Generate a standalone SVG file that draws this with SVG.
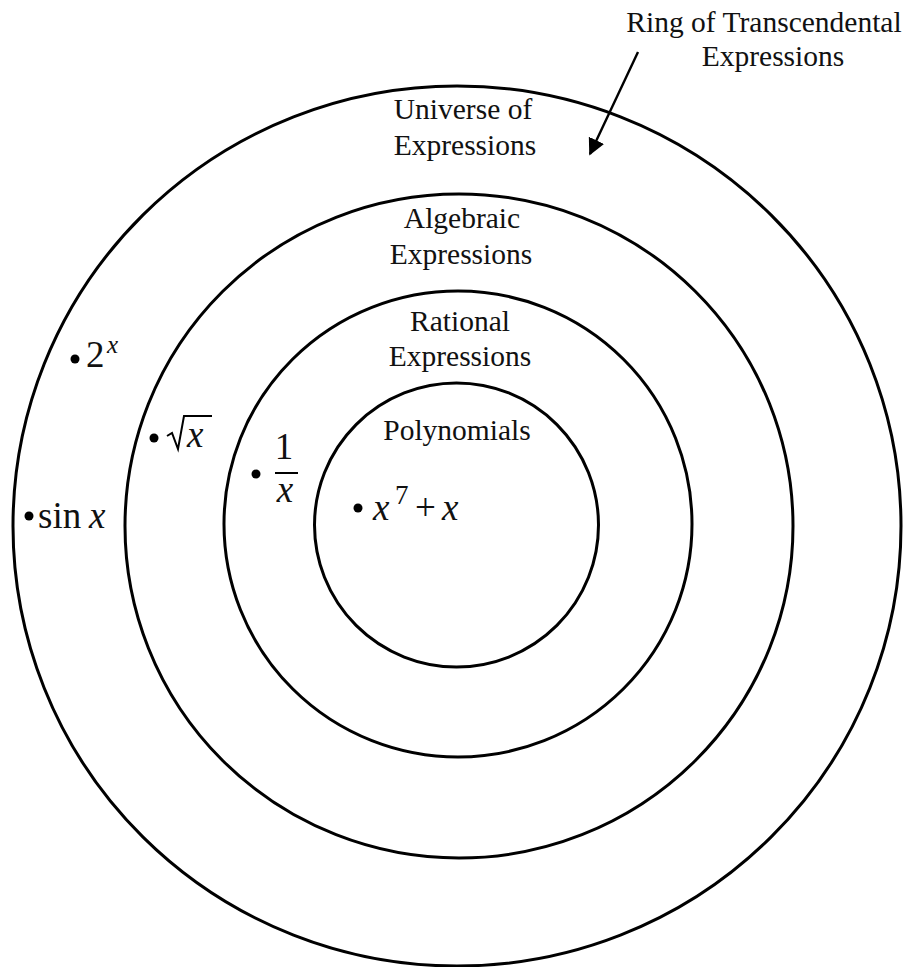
<svg xmlns="http://www.w3.org/2000/svg" width="905" height="967" viewBox="0 0 905 967">
<defs>
<style>
.ring{fill:none;stroke:#000;stroke-width:3}
.lbl{font-family:"Liberation Serif","Times New Roman",serif;font-size:29.5px;fill:#111;text-anchor:middle}
.m{font-family:"Liberation Serif","Times New Roman",serif;font-size:37px;fill:#111}
.mi{font-style:italic}
.sup{font-size:25px}
.sup7{font-size:27px}
.dot{fill:#000}
</style>
<marker id="ah" viewBox="0 0 10 10" refX="9" refY="5" markerWidth="7" markerHeight="7" orient="auto" markerUnits="strokeWidth">
<path d="M0,0 L10,5 L0,10 z" fill="#000"/>
</marker>
</defs>
<rect width="905" height="967" fill="#fff"/>
<g id="universe">
<ellipse class="ring" cx="457" cy="526" rx="444" ry="440"/>
<text class="lbl" x="463" y="119">Universe of</text>
<text class="lbl" x="465" y="155">Expressions</text>
</g>
<g id="algebraic">
<ellipse class="ring" cx="459" cy="526" rx="334" ry="332"/>
<text class="lbl" x="462" y="228">Algebraic</text>
<text class="lbl" x="461" y="264">Expressions</text>
</g>
<g id="rational">
<ellipse class="ring" cx="458" cy="524" rx="234" ry="233"/>
<text class="lbl" x="460" y="331">Rational</text>
<text class="lbl" x="460" y="366">Expressions</text>
</g>
<g id="polynomials">
<ellipse class="ring" cx="456.5" cy="525" rx="142" ry="142"/>
<text class="lbl" x="457" y="440">Polynomials</text>
</g>
<g id="ring-label">
<text class="lbl" x="764" y="32">Ring of Transcendental</text>
<text class="lbl" x="773" y="66">Expressions</text>
</g>
<g id="connectors">
<line x1="638" y1="52" x2="590" y2="154" stroke="#000" stroke-width="2.4" marker-end="url(#ah)"/>
</g>
<g id="ex-2x">
<circle class="dot" cx="75" cy="359" r="4.5"/>
<text class="m" x="86" y="367">2</text>
<text class="m mi sup" x="107" y="353">x</text>
</g>
<g id="ex-sqrt">
<circle class="dot" cx="154" cy="438" r="4.5"/>
<path d="M167,436 L172,433 L178,449 L184,416 L212,416" fill="none" stroke="#000" stroke-width="2"/>
<text class="m mi" x="187" y="447">x</text>
</g>
<g id="ex-recip">
<circle class="dot" cx="256" cy="474" r="4.5"/>
<text class="m" x="284" y="459" text-anchor="middle">1</text>
<line x1="275" y1="473" x2="298" y2="473" stroke="#000" stroke-width="2"/>
<text class="m mi" x="285" y="502" text-anchor="middle">x</text>
</g>
<g id="ex-sin">
<circle class="dot" cx="29" cy="516" r="4.5"/>
<text class="m" x="38" y="528">sin</text>
<text class="m mi" x="89" y="528">x</text>
</g>
<g id="ex-poly">
<circle class="dot" cx="358" cy="508" r="4.5"/>
<text class="m mi" x="373" y="520">x</text>
<text class="m sup7" x="395" y="504">7</text>
<text class="m" x="415" y="520">+</text>
<text class="m mi" x="442" y="520">x</text>
</g>
</svg>
